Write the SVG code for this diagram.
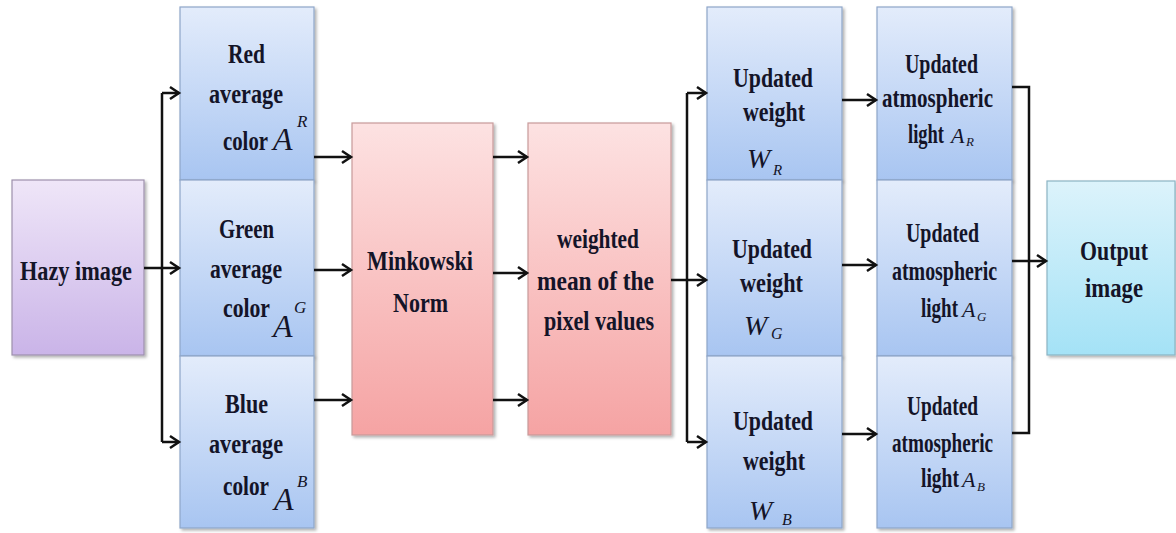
<svg xmlns="http://www.w3.org/2000/svg" width="1176" height="533" viewBox="0 0 1176 533">
  <defs>
    <linearGradient id="gBlue" x1="0" y1="0" x2="0" y2="1">
      <stop offset="0" stop-color="#e3ecfb"/>
      <stop offset="1" stop-color="#a8c5f1"/>
    </linearGradient>
    <linearGradient id="gPink" x1="0" y1="0" x2="0" y2="1">
      <stop offset="0" stop-color="#fde2e2"/>
      <stop offset="1" stop-color="#f5a3a3"/>
    </linearGradient>
    <linearGradient id="gPurple" x1="0" y1="0" x2="0" y2="1">
      <stop offset="0" stop-color="#efe6f8"/>
      <stop offset="1" stop-color="#cab4e8"/>
    </linearGradient>
    <linearGradient id="gCyan" x1="0" y1="0" x2="0" y2="1">
      <stop offset="0" stop-color="#dcf3fb"/>
      <stop offset="1" stop-color="#a4e2f6"/>
    </linearGradient>
    <filter id="shadow" x="-10%" y="-10%" width="125%" height="125%">
      <feDropShadow dx="2" dy="2" stdDeviation="1.5" flood-color="#000" flood-opacity="0.3"/>
    </filter>
    <marker id="arrow" markerUnits="userSpaceOnUse" markerWidth="14" markerHeight="16" refX="11" refY="8" orient="auto">
      <path d="M2,2 L11,8 L2,14" fill="none" stroke="#111" stroke-width="2.5"/>
    </marker>
    <style>
      .box { stroke-width: 1.2; filter: url(#shadow); }
      .blue { fill: url(#gBlue); stroke: #8ea6c9; }
      .pink { fill: url(#gPink); stroke: #c79a9a; }
      .purple { fill: url(#gPurple); stroke: #9d90ac; }
      .cyan { fill: url(#gCyan); stroke: #8bb4c4; }
      .lbl { font-family: "Liberation Serif", "Times New Roman", serif; font-weight: bold; font-size: 28px; fill: #141428; }
      .m { font-family: "Liberation Serif", "Times New Roman", serif; font-style: italic; font-weight: normal; fill: #141428; }
      .wire { fill: none; stroke: #111; stroke-width: 2.5; }
    </style>
  </defs>

  <rect width="1176" height="533" fill="#ffffff"/>

  <!-- input image -->
  <g id="hazy">
    <rect class="box purple" x="12" y="180" width="132" height="175"/>
    <text class="lbl" x="20" y="280" textLength="112" lengthAdjust="spacingAndGlyphs">Hazy image</text>
  </g>

  <!-- per-channel average colours -->
  <g id="red-avg">
    <rect class="box blue" x="180" y="7" width="134" height="173"/>
    <text class="lbl" x="228" y="63" textLength="37" lengthAdjust="spacingAndGlyphs">Red</text>
    <text class="lbl" x="209" y="103" textLength="74" lengthAdjust="spacingAndGlyphs">average</text>
    <text class="lbl" x="223" y="150"><tspan textLength="45" lengthAdjust="spacingAndGlyphs">color</tspan><tspan class="m" x="273" font-size="32">A</tspan><tspan class="m" x="297" y="127" font-size="17">R</tspan></text>
  </g>
  <g id="green-avg">
    <rect class="box blue" x="180" y="180" width="134" height="176"/>
    <text class="lbl" x="219" y="238" textLength="55" lengthAdjust="spacingAndGlyphs">Green</text>
    <text class="lbl" x="210" y="278" textLength="72" lengthAdjust="spacingAndGlyphs">average</text>
    <text class="lbl" x="223" y="317"><tspan textLength="47" lengthAdjust="spacingAndGlyphs">color</tspan><tspan class="m" x="273" y="337" font-size="32">A</tspan><tspan class="m" x="294" y="313" font-size="17">G</tspan></text>
  </g>
  <g id="blue-avg">
    <rect class="box blue" x="180" y="356" width="134" height="172"/>
    <text class="lbl" x="225" y="413" textLength="43" lengthAdjust="spacingAndGlyphs">Blue</text>
    <text class="lbl" x="209" y="453" textLength="74" lengthAdjust="spacingAndGlyphs">average</text>
    <text class="lbl" x="223" y="495"><tspan textLength="46" lengthAdjust="spacingAndGlyphs">color</tspan><tspan class="m" x="274" y="510" font-size="32">A</tspan><tspan class="m" x="297" y="487" font-size="17">B</tspan></text>
  </g>

  <!-- processing stages -->
  <g id="minkowski">
    <rect class="box pink" x="352" y="123" width="141" height="312"/>
    <text class="lbl" x="367" y="270" textLength="106" lengthAdjust="spacingAndGlyphs">Minkowski</text>
    <text class="lbl" x="393" y="312" textLength="55" lengthAdjust="spacingAndGlyphs">Norm</text>
  </g>
  <g id="weighted-mean">
    <rect class="box pink" x="528" y="123" width="143" height="312"/>
    <text class="lbl" x="557" y="248" textLength="82" lengthAdjust="spacingAndGlyphs">weighted</text>
    <text class="lbl" x="537" y="290" textLength="117" lengthAdjust="spacingAndGlyphs">mean of the</text>
    <text class="lbl" x="544" y="330" textLength="110" lengthAdjust="spacingAndGlyphs">pixel values</text>
  </g>

  <!-- updated weights -->
  <g id="weight-r">
    <rect class="box blue" x="707" y="7" width="135" height="173"/>
    <text class="lbl" x="733" y="87" textLength="80" lengthAdjust="spacingAndGlyphs">Updated</text>
    <text class="lbl" x="743" y="121" textLength="62" lengthAdjust="spacingAndGlyphs">weight</text>
    <text class="m" x="747" y="168" font-size="28"><tspan>W</tspan><tspan x="773" y="175" font-size="15">R</tspan></text>
  </g>
  <g id="weight-g">
    <rect class="box blue" x="707" y="180" width="135" height="176"/>
    <text class="lbl" x="732" y="258" textLength="80" lengthAdjust="spacingAndGlyphs">Updated</text>
    <text class="lbl" x="740" y="292" textLength="63" lengthAdjust="spacingAndGlyphs">weight</text>
    <text class="m" x="744" y="335" font-size="28"><tspan>W</tspan><tspan x="771" y="339" font-size="16">G</tspan></text>
  </g>
  <g id="weight-b">
    <rect class="box blue" x="707" y="356" width="135" height="172"/>
    <text class="lbl" x="733" y="430" textLength="80" lengthAdjust="spacingAndGlyphs">Updated</text>
    <text class="lbl" x="743" y="470" textLength="62" lengthAdjust="spacingAndGlyphs">weight</text>
    <text class="m" x="749" y="520" font-size="28"><tspan>W</tspan><tspan x="782" y="525" font-size="16">B</tspan></text>
  </g>

  <!-- updated atmospheric light -->
  <g id="atm-r">
    <rect class="box blue" x="877" y="7" width="135" height="173"/>
    <text class="lbl" x="905" y="73" textLength="73" lengthAdjust="spacingAndGlyphs">Updated</text>
    <text class="lbl" x="882" y="107" textLength="111" lengthAdjust="spacingAndGlyphs">atmospheric</text>
    <text class="lbl" x="908" y="143"><tspan textLength="36" lengthAdjust="spacingAndGlyphs">light</tspan><tspan class="m" x="951" font-size="22">A</tspan><tspan class="m" x="966" y="146" font-size="13">R</tspan></text>
  </g>
  <g id="atm-g">
    <rect class="box blue" x="877" y="180" width="135" height="176"/>
    <text class="lbl" x="906" y="242" textLength="73" lengthAdjust="spacingAndGlyphs">Updated</text>
    <text class="lbl" x="892" y="280" textLength="105" lengthAdjust="spacingAndGlyphs">atmospheric</text>
    <text class="lbl" x="921" y="317"><tspan textLength="37" lengthAdjust="spacingAndGlyphs">light</tspan><tspan class="m" x="962" font-size="22">A</tspan><tspan class="m" x="977" y="321" font-size="13">G</tspan></text>
  </g>
  <g id="atm-b">
    <rect class="box blue" x="877" y="356" width="135" height="172"/>
    <text class="lbl" x="907" y="415" textLength="71" lengthAdjust="spacingAndGlyphs">Updated</text>
    <text class="lbl" x="892" y="452" textLength="101" lengthAdjust="spacingAndGlyphs">atmospheric</text>
    <text class="lbl" x="921" y="487"><tspan textLength="38" lengthAdjust="spacingAndGlyphs">light</tspan><tspan class="m" x="962" font-size="22">A</tspan><tspan class="m" x="977" y="491" font-size="13">B</tspan></text>
  </g>

  <!-- result -->
  <g id="output">
    <rect class="box cyan" x="1047" y="181" width="128" height="174"/>
    <text class="lbl" x="1080" y="260" textLength="68" lengthAdjust="spacingAndGlyphs">Output</text>
    <text class="lbl" x="1085" y="297" textLength="58" lengthAdjust="spacingAndGlyphs">image</text>
  </g>

  <!-- connectors -->
  <g id="connectors">
    <!-- hazy image fan-out to the three channels -->
    <path class="wire" d="M144,268 H162"/>
    <path class="wire" d="M162,93 V442"/>
    <path class="wire" d="M162,93 H179" marker-end="url(#arrow)"/>
    <path class="wire" d="M162,268 H179" marker-end="url(#arrow)"/>
    <path class="wire" d="M162,442 H179" marker-end="url(#arrow)"/>

    <!-- channels to Minkowski norm -->
    <path class="wire" d="M314,157 H351" marker-end="url(#arrow)"/>
    <path class="wire" d="M314,270 H351" marker-end="url(#arrow)"/>
    <path class="wire" d="M314,400 H351" marker-end="url(#arrow)"/>

    <!-- Minkowski norm to weighted mean -->
    <path class="wire" d="M493,157 H527" marker-end="url(#arrow)"/>
    <path class="wire" d="M493,273 H527" marker-end="url(#arrow)"/>
    <path class="wire" d="M493,400 H527" marker-end="url(#arrow)"/>

    <!-- weighted mean fan-out to updated weights -->
    <path class="wire" d="M671,280 H687"/>
    <path class="wire" d="M687,93 V442"/>
    <path class="wire" d="M687,93 H706" marker-end="url(#arrow)"/>
    <path class="wire" d="M687,280 H706" marker-end="url(#arrow)"/>
    <path class="wire" d="M687,442 H706" marker-end="url(#arrow)"/>

    <!-- weights to atmospheric light -->
    <path class="wire" d="M842,100 H876" marker-end="url(#arrow)"/>
    <path class="wire" d="M842,265 H876" marker-end="url(#arrow)"/>
    <path class="wire" d="M842,434 H876" marker-end="url(#arrow)"/>

    <!-- atmospheric light merged into the output -->
    <path class="wire" d="M1012,87 H1029 V433 H1012"/>
    <path class="wire" d="M1012,261 H1046" marker-end="url(#arrow)"/>
  </g>
</svg>
